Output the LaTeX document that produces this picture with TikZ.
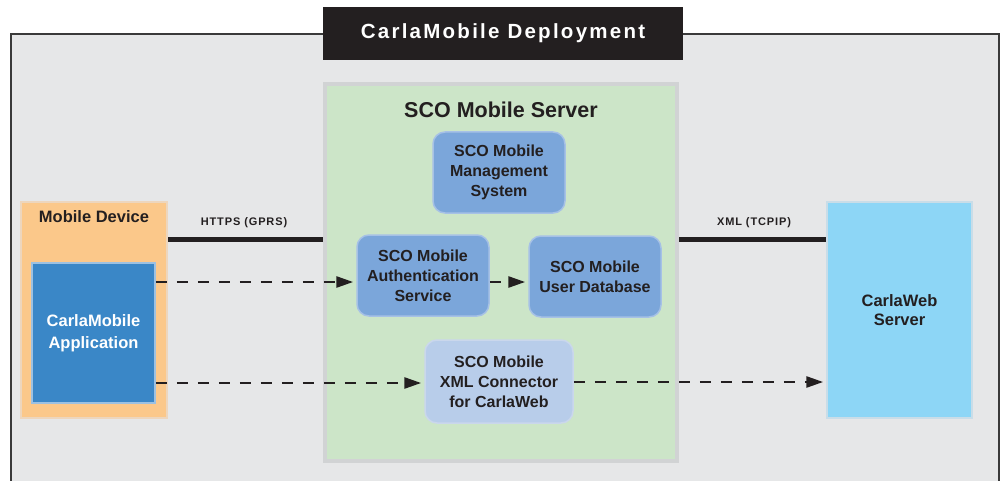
\documentclass[tikz,border=0pt]{standalone}
\usepackage{fontspec}
\setmainfont{Liberation Sans}
\newfontfamily\titlefont[LetterSpace=11]{Liberation Sans}
\newfontfamily\linkfont[LetterSpace=8]{Liberation Sans}
\usetikzlibrary{arrows.meta}
\definecolor{bggray}{HTML}{E6E7E8}
\definecolor{framecol}{HTML}{3A3A3A}
\definecolor{inkblack}{HTML}{231F20}
\definecolor{greenfill}{HTML}{CCE5C8}
\definecolor{greenborder}{HTML}{D1D3D4}
\definecolor{bluefill}{HTML}{7BA6DA}
\definecolor{blueborder}{HTML}{A6C1E6}
\definecolor{paleblue}{HTML}{B8CDEA}
\definecolor{paleborder}{HTML}{CAD7EC}
\definecolor{orangefill}{HTML}{FBC88A}
\definecolor{orangeborder}{HTML}{EDD6BD}
\definecolor{appblue}{HTML}{3A87C7}
\definecolor{appborder}{HTML}{9CC1E2}
\definecolor{skyfill}{HTML}{8DD6F6}
\definecolor{skyborder}{HTML}{C9DDE8}
\tikzset{
  svc/.style={draw=blueborder, line width=1.5pt, fill=bluefill, rounded corners=12pt,
    minimum width=132pt, minimum height=81pt, inner sep=0pt, align=center,
    text=inkblack, font=\bfseries\fontsize{16}{20}\selectfont},
  linklabel/.style={text=inkblack, font=\linkfont\bfseries\fontsize{11}{13}\selectfont, inner sep=0pt},
  thickline/.style={line width=5pt, draw=inkblack},
  dasharrow/.style={line width=2.7pt, draw=inkblack, dash pattern=on 11pt off 10pt,
    -{Triangle[length=17pt,width=11pt]}, shorten >=3pt}
}
\begin{document}
\begin{tikzpicture}[x=1pt,y=-1pt]
\useasboundingbox (0,0) rectangle (1003,481);
\fill[white] (0,0) rectangle (1003,481);
% outer frame
\fill[bggray] (11,495) -- (11,34) -- (999,34) -- (999,495) -- cycle;
\draw[framecol, line width=1.5pt] (11,495) -- (11,34) -- (999,34) -- (999,495);
% title
\node[fill=inkblack, minimum width=360pt, minimum height=53pt, inner sep=0pt,
  text=white, font=\titlefont\bfseries\fontsize{20.5}{24}\selectfont] (title) at (503,33.5) {CarlaMobile Deployment};
% SCO mobile server container
\node[draw=greenborder, line width=4pt, fill=greenfill, minimum width=352pt, minimum height=377pt, inner sep=0pt] (sco) at (501,272.5) {};
\node[text=inkblack, font=\bfseries\fontsize{21.5}{24}\selectfont, inner sep=0pt] (scotitle) at (501,110) {SCO Mobile Server};
% services
\node[svc] (mgmt) at (499,172.5) {SCO Mobile\\Management\\System};
\node[svc] (auth) at (423,275.5) {SCO Mobile\\Authentication\\Service};
\node[svc] (udb) at (595,276.5) {SCO Mobile\\User Database};
\node[svc, fill=paleblue, draw=paleborder, minimum width=148pt, minimum height=83pt] (xmlc) at (499,381.5) {SCO Mobile\\XML Connector\\for CarlaWeb};
% mobile device
\node[draw=orangeborder, line width=2pt, fill=orangefill, minimum width=146pt, minimum height=216pt, inner sep=0pt] (md) at (94,310) {};
\node[text=inkblack, font=\bfseries\fontsize{16.5}{20}\selectfont, inner sep=0pt] (mdlabel) at (94,217) {Mobile Device};
\node[draw=appborder, line width=1.5pt, fill=appblue, minimum width=123pt, minimum height=140pt, inner sep=0pt,
  text=white, align=center, font=\bfseries\fontsize{16.5}{23}\selectfont] (app) at (93.5,333) {CarlaMobile\\[-1pt]Application};
% CarlaWeb server
\node[draw=skyborder, line width=1.5pt, fill=skyfill, minimum width=145pt, minimum height=216pt, inner sep=0pt,
  text=inkblack, align=center, font=\bfseries\fontsize{16.5}{19}\selectfont] (cw) at (899.5,310) {CarlaWeb\\Server};
% links
\draw[thickline] (md.east |- 0,239) -- (sco.west |- 0,239);
\node[linklabel] (https) at (244,223) {HTTPS (GPRS)};
\draw[thickline] (sco.east |- 0,239) -- (cw.west |- 0,239);
\node[linklabel] (xmltcp) at (754,223) {XML (TCPIP)};
% dashed arrows
\draw[dasharrow] (app.east |- 0,282) -- (auth.west |- 0,282);
\draw[dasharrow] (auth.east |- 0,282) -- (udb.west |- 0,282);
\draw[dasharrow] (app.east |- 0,383) -- (xmlc.west |- 0,383);
\draw[dasharrow] (xmlc.east |- 0,382) -- (cw.west |- 0,382);
\end{tikzpicture}
\end{document}
